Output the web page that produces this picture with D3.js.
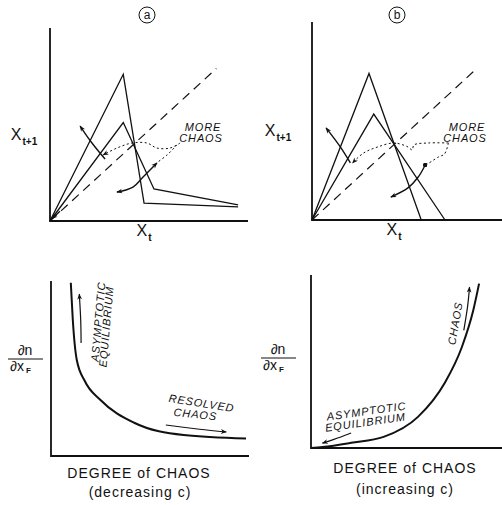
<!DOCTYPE html>
<html>
<head>
<meta charset="utf-8">
<script src="https://cdn.jsdelivr.net/npm/d3@7"></script>
<style>
  body { margin: 0; background: #fff; }
  text { font-family: "Liberation Sans", Arial, sans-serif; fill: #111; }
  .lbl { font-size: 14px; letter-spacing: 1px; }
  .note { font-size: 11px; font-style: italic; letter-spacing: 0.9px; }
</style>
</head>
<body>
<div id="fig"></div>
<script>
// panel (a): return maps, x and y in 0..1 of each axis
var tallMapA = [[0, 0], [0.37, 0.76], [0.475, 0.093], [0.95, 0.073]];
var shortMapA = [[0, 0], [0.37, 0.51], [0.525, 0.166], [0.95, 0.083]];
var diagA = [[0, 0], [0.84, 0.79]];

// panel (b)
var tallMapB = [[0, 0], [0.30, 0.74], [0.575, 0]];
var shortMapB = [[0, 0], [0.325, 0.535], [0.70, 0]];
var diagB = [[0, 0], [0.85, 0.75]];

// bottom panels: dn/dxF against degree of chaos
var curveC = [[0.10, 0.99], [0.11, 0.78], [0.13, 0.55], [0.17, 0.43], [0.25, 0.32],
              [0.42, 0.19], [0.67, 0.12], [0.985, 0.10]];
var curveD = [[0, 0], [0.06, 0.006], [0.21, 0.03], [0.38, 0.064], [0.56, 0.18],
              [0.70, 0.376], [0.79, 0.584], [0.85, 0.798], [0.88, 0.95]];

// annotation arrows (same units)
var arrowsA = [[[0.278, 0.321], [0.212, 0.404], [0.152, 0.492]],
               [[0.540, 0.301], [0.470, 0.228], [0.419, 0.176], [0.338, 0.150]],
               [[0.05, 0.05], [0.01, 0.012]]];
var dottedA = [[[0.657, 0.404], [0.606, 0.378], [0.540, 0.378], [0.490, 0.404], [0.414, 0.404], [0.338, 0.378], [0.268, 0.342]],
               [[0.641, 0.394], [0.591, 0.342], [0.545, 0.306]]];
var arrowsB = [[[0.202, 0.288], [0.149, 0.369], [0.074, 0.465]],
               [[0.596, 0.278], [0.559, 0.217], [0.505, 0.162], [0.415, 0.116]]];
var dottedB = [[[0.718, 0.389], [0.612, 0.389], [0.537, 0.379], [0.527, 0.354], [0.505, 0.369], [0.431, 0.389], [0.346, 0.369], [0.271, 0.338], [0.213, 0.288]],
               [[0.718, 0.389], [0.697, 0.333], [0.665, 0.318], [0.601, 0.278]]];
var arrowsC = [[[0.152, 0.646], [0.150, 0.777], [0.143, 0.925]],
               [[0.58, 0.177], [0.75, 0.153], [0.885, 0.137]]];
var arrowsD = [[[0.80, 0.68], [0.82, 0.82], [0.83, 0.93]],
               [[0.21, 0.087], [0.12, 0.05], [0.06, 0.028]]];

var svg = d3.select("#fig").append("svg")
  .attr("width", 502)
  .attr("height", 505);

var defs = svg.append("defs");
defs.append("marker")
  .attr("id", "head")
  .attr("viewBox", "0 0 10 10")
  .attr("refX", 9).attr("refY", 5)
  .attr("markerWidth", 10).attr("markerHeight", 6)
  .attr("markerUnits", "userSpaceOnUse")
  .attr("orient", "auto-start-reverse")
  .append("path").attr("d", "M0,1 L10,5 L0,9 L3,5 Z").attr("fill", "#111");
defs.append("marker")
  .attr("id", "dot")
  .attr("viewBox", "0 0 10 10")
  .attr("refX", 5).attr("refY", 5)
  .attr("markerWidth", 4.5).attr("markerHeight", 4.5)
  .attr("markerUnits", "userSpaceOnUse")
  .append("circle").attr("cx", 5).attr("cy", 5).attr("r", 5).attr("fill", "#111");

// builds one panel: axes + scales
function panel(x0, x1, y0, y1) {
  var x = d3.scaleLinear().domain([0, 1]).range([x0, x1]);
  var y = d3.scaleLinear().domain([0, 1]).range([y0, y1]);
  var g = svg.append("g");
  g.append("path")
    .attr("d", `M${x0},${y1} L${x0},${y0} L${x1},${y0}`)
    .attr("fill", "none").attr("stroke", "#111").attr("stroke-width", 1.8);
  return {g: g, x: x, y: y};
}

function drawLine(p, pts, opts) {
  var line = d3.line().x(d => p.x(d[0])).y(d => p.y(d[1]));
  if (opts.curve) line.curve(opts.curve);
  return p.g.append("path")
    .attr("d", line(pts))
    .attr("fill", "none")
    .attr("stroke", "#111")
    .attr("stroke-width", opts.w || 1.3)
    .attr("stroke-dasharray", opts.dash || null)
    .attr("marker-end", opts.head ? "url(#head)" : null)
    .attr("marker-start", opts.start || null);
}

function circledLetter(cx, cy, ch) {
  svg.append("circle").attr("cx", cx).attr("cy", cy).attr("r", 8)
    .attr("fill", "none").attr("stroke", "#111").attr("stroke-width", 1);
  svg.append("text").attr("x", cx).attr("y", cy + 4).attr("text-anchor", "middle")
    .style("font-size", "12px").text(ch);
}

function xLabels(cx, yX, sub) {
  var t = svg.append("text").attr("x", cx).attr("y", yX).attr("text-anchor", "middle");
  t.append("tspan").style("font-size", "16px").text("X");
  t.append("tspan").style("font-size", "10px").style("font-weight", "bold").attr("dx", 1).attr("dy", 5).text(sub);
}

function derivLabel(x, yLine) {
  svg.append("text").attr("x", x + 17).attr("y", yLine - 4).attr("text-anchor", "middle")
    .style("font-size", "14px").text("∂n");
  svg.append("line").attr("x1", x).attr("x2", x + 35).attr("y1", yLine).attr("y2", yLine)
    .attr("stroke", "#111").attr("stroke-width", 1);
  var t = svg.append("text").attr("x", x + 2).attr("y", yLine + 12).style("font-size", "14px");
  t.append("tspan").text("∂x");
  t.append("tspan").attr("dx", 2).attr("dy", 2).style("font-size", "8px").style("font-weight", "bold").text("F");
}

function note(x, y, rot, str) {
  svg.append("text").attr("class", "note")
    .attr("transform", `translate(${x},${y}) rotate(${rot})`)
    .attr("text-anchor", "middle").text(str);
}

// ---- panel a
var pa = panel(50, 248, 221, 28);
drawLine(pa, diagA, {dash: "9,6", w: 1.2});
drawLine(pa, tallMapA, {});
drawLine(pa, shortMapA, {});
dottedA.forEach(d => drawLine(pa, d, {dash: "2,2.5", w: 1, curve: d3.curveCatmullRom, head: d === dottedA[0]}));
arrowsA.forEach((d, i) => drawLine(pa, d, {curve: d3.curveCatmullRom, head: true, w: 1.4,
  start: i === 1 ? "url(#head)" : null}));
circledLetter(147, 15, "a");
xLabels(24, 140, "t+1");
xLabels(144, 236, "t");
note(203, 131, 0, "MORE");
note(201, 142, 0, "CHAOS");

// ---- panel b
var pb = panel(312, 502, 220, 22);
drawLine(pb, diagB, {dash: "9,6", w: 1.2});
drawLine(pb, tallMapB, {});
drawLine(pb, shortMapB, {});
dottedB.forEach(d => drawLine(pb, d, {dash: "2,2.5", w: 1, curve: d3.curveCatmullRom, head: d === dottedB[0]}));
arrowsB.forEach((d, i) => drawLine(pb, d, {curve: d3.curveCatmullRom, head: true, w: 1.4,
  start: i === 1 ? "url(#dot)" : null}));
circledLetter(397, 15, "b");
xLabels(278, 136, "t+1");
xLabels(394, 235, "t");
note(467, 131, 0, "MORE");
note(465, 142, 0, "CHAOS");

// ---- panel c
var pc = panel(51, 249, 456, 281);
drawLine(pc, curveC, {curve: d3.curveMonotoneX, w: 2});
arrowsC.forEach(d => drawLine(pc, d, {curve: d3.curveCatmullRom, head: true, w: 1.2}));
derivLabel(8, 359);
note(102, 322, -85, "ASYMPTOTIC");
note(110, 327, -85, "EQUILIBRIUM");
note(201, 407, 9, "RESOLVED");
note(195, 418, 6, "CHAOS");
svg.append("text").attr("class", "lbl").attr("x", 139).attr("y", 478).attr("text-anchor", "middle").text("DEGREE of CHAOS");
svg.append("text").attr("class", "lbl").attr("x", 140).attr("y", 497).attr("text-anchor", "middle").text("(decreasing c)");

// ---- panel d
var pd = panel(311, 502, 448, 275);
drawLine(pd, curveD, {curve: d3.curveMonotoneX, w: 2});
arrowsD.forEach(d => drawLine(pd, d, {curve: d3.curveCatmullRom, head: true, w: 1.2}));
derivLabel(261, 358);
note(459, 324, -80, "CHAOS");
note(367, 415, -8, "ASYMPTOTIC");
note(366, 426, -8, "EQUILIBRIUM");
svg.append("text").attr("class", "lbl").attr("x", 405).attr("y", 473).attr("text-anchor", "middle").text("DEGREE of CHAOS");
svg.append("text").attr("class", "lbl").attr("x", 405).attr("y", 494).attr("text-anchor", "middle").text("(increasing c)");
</script>
</body>
</html>
